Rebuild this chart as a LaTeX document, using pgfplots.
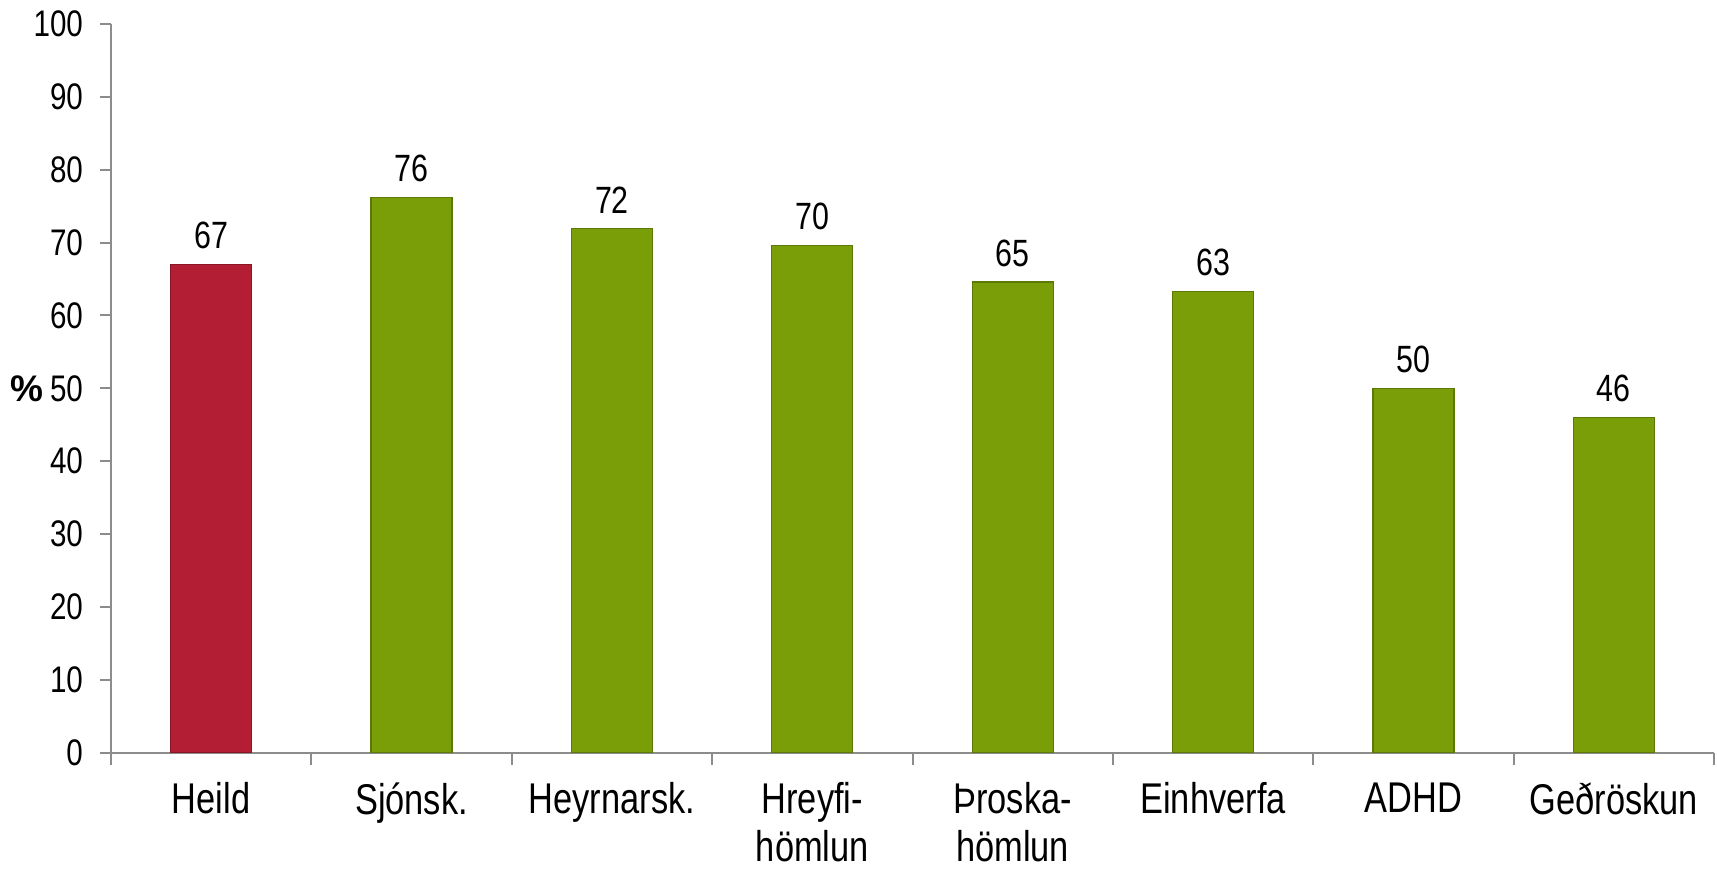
\documentclass[border=0pt]{standalone}
\usepackage{fontspec}
\setmainfont[FakeStretch=0.8]{Liberation Sans}
\newfontfamily\boldpct{Liberation Sans}
\usepackage{pgfplots}
\pgfplotsset{compat=1.18}
\definecolor{barred}{HTML}{B41E35}
\definecolor{barredd}{HTML}{8A1526}
\definecolor{bargreen}{HTML}{7A9E08}
\definecolor{bargreend}{HTML}{5C7806}
\definecolor{axgray}{HTML}{8C8C8C}
\begin{document}
\begin{tikzpicture}
\path[use as bounding box] (0,0) rectangle (858.5pt,435.5pt);
\begin{axis}[
  at={(55.5pt,59.15pt)}, anchor=south west,
  scale only axis,
  width=801.5pt, height=364.35pt,
  ybar, bar shift=0pt, bar width=40.5pt,
  xmin=-0.5, xmax=7.5, ymin=0, ymax=100,
  ytick={0,10,...,100},
  xtick={0,...,7},
  xticklabels={Heild,Sjónsk.,Heyrnarsk.,{Hreyfi-\\hömlun},{Þroska-\\hömlun},Einhverfa,ADHD,Geðröskun},
  minor xtick={-0.5,0.5,...,7.5},
  major x tick style={draw=none},
  axis x line*=bottom, axis y line*=left,
  axis line style={axgray, line width=1pt},
  every tick/.style={axgray, line width=1pt},
  minor x tick style={axgray, line width=1pt},
  tick align=outside,
  major tick length=5.5pt, minor tick length=6pt,
  /pgf/number format/assume math mode=true,
  yticklabel style={font=\fontsize{18.5}{20}\selectfont, xshift=-5pt},
  xticklabel style={font=\fontsize{21.5}{24}\selectfont, align=center, yshift=-6pt},
  ylabel={\boldpct\bfseries\%},
  ylabel style={font=\fontsize{18.5}{20}\selectfont, rotate=-90, at={(axis description cs:0,0.5)}, anchor=east, xshift=-30.5pt},
  nodes near coords={\pgfmathprintnumber[fixed,precision=0]{\pgfplotspointmeta}},
  nodes near coords style={font=\fontsize{19}{21}\selectfont, anchor=south, yshift=4pt},
  clip=false,
]
\addplot[fill=barred, draw=barredd, line width=0.6pt] coordinates {(0,67)};
\addplot[fill=bargreen, draw=bargreend, line width=0.6pt] coordinates {(1,76.2) (2,71.9) (3,69.6) (4,64.6) (5,63.3) (6,50) (7,46)};
\end{axis}
\end{tikzpicture}
\end{document}
